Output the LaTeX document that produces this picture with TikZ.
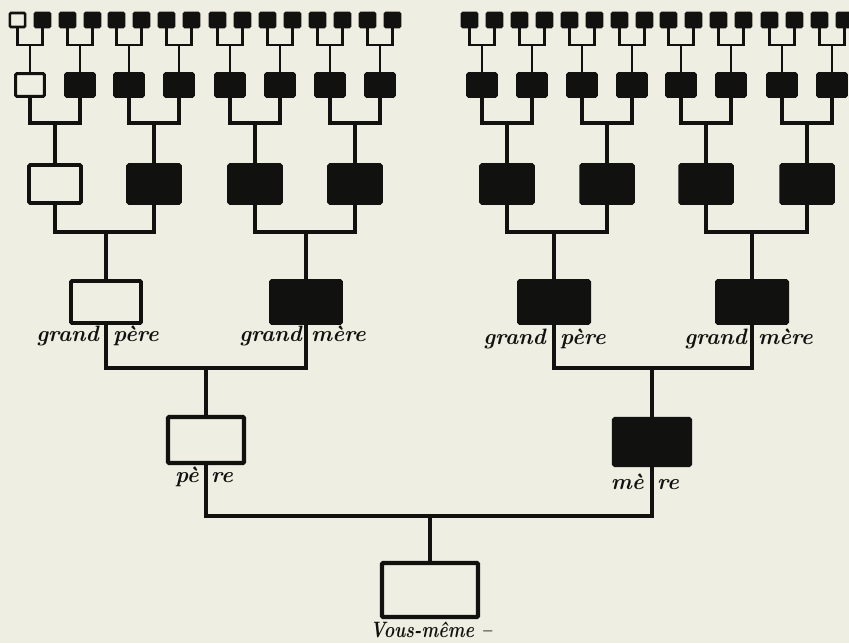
\documentclass[tikz,border=0pt]{standalone}
\usepackage{tikz}
\usetikzlibrary{calc}

\definecolor{paper}{RGB}{238,239,226}
\definecolor{ink}{RGB}{17,17,15}

\tikzset{
    box/.style={draw=ink, inner sep=0pt, outer sep=0pt, rounded corners=1pt},
    whitebox/.style={box, fill=paper},
    blackbox/.style={box, fill=ink},
    gen0/.style={minimum width=2.88cm, minimum height=1.62cm, line width=3.6pt},
    gen1/.style={minimum width=2.28cm, minimum height=1.38cm, line width=3.6pt},
    gen2/.style={minimum width=2.10cm, minimum height=1.26cm, line width=3.4pt},
    gen3/.style={minimum width=1.56cm, minimum height=1.14cm, line width=3pt},
    gen4/.style={minimum width=0.86cm, minimum height=0.68cm, line width=2.6pt},
    gen5/.style={minimum width=0.46cm, minimum height=0.42cm, line width=2.2pt},
    lnk/.style={draw=ink, line join=miter},
    lbl/.style={inner sep=0pt, text=ink, font=\fontsize{19}{22}\selectfont\bfseries\itshape}
}

\begin{document}
\begin{tikzpicture}[x=0.03cm, y=-0.03cm]
    \fill[paper] (0,0) rectangle (849,643);
    \useasboundingbox (0,0) rectangle (849,643);

    % vous-meme
    \node[whitebox, gen0] (moi) at (430,590) {};
    \node[lbl, anchor=base, xscale=0.8] (moi-t) at (431,637) {Vous-même --};

    % parents
    \node[whitebox, gen1] (pere) at (206,440) {};
    \node[blackbox, gen1] (mere) at (652,442) {};
    \coordinate (j0) at (430,516);
    \draw[lnk, line width=3.6pt] (pere.south) |- (j0) -| (mere.south) (j0) -- (moi.north);
    \node[lbl, anchor=base east] (pere-a) at (199,482) {pè};
    \node[lbl, anchor=base west] (pere-b) at (211,482) {re};
    \node[lbl, anchor=base east] (mere-a) at (644,489) {mè};
    \node[lbl, anchor=base west] (mere-b) at (657,489) {re};

    % grands-parents
    \node[whitebox, gen2] (gpp) at (106,302) {};
    \node[blackbox, gen2] (gmp) at (306,302) {};
    \node[blackbox, gen2] (gpm) at (554,302) {};
    \node[blackbox, gen2] (gmm) at (752,302) {};
    \coordinate (j1p) at (206,368);
    \coordinate (j1m) at (652,368);
    \draw[lnk, line width=3.4pt] (gpp.south) |- (j1p) -| (gmp.south) (j1p) -- (pere.north);
    \draw[lnk, line width=3.4pt] (gpm.south) |- (j1m) -| (gmm.south) (j1m) -- (mere.north);
    \node[lbl, anchor=base east] (gpp-a) at (99,341) {grand};
    \node[lbl, anchor=base west] (gpp-b) at (113,341) {père};
    \node[lbl, anchor=base east] (gmp-a) at (302,341) {grand};
    \node[lbl, anchor=base west] (gmp-b) at (311,341) {mère};
    \node[lbl, anchor=base east] (gpm-a) at (546,344) {grand};
    \node[lbl, anchor=base west] (gpm-b) at (560,344) {père};
    \node[lbl, anchor=base east] (gmm-a) at (747,344) {grand};
    \node[lbl, anchor=base west] (gmm-b) at (758,344) {mère};

    % deux rangs du haut
    \foreach \n/\x/\s in {b1/30/whitebox, b2/80/blackbox, b3/129/blackbox, b4/179/blackbox,
        b5/230/blackbox, b6/280/blackbox, b7/330/blackbox, b8/380/blackbox,
        b9/482/blackbox, b10/532/blackbox, b11/582/blackbox, b12/632/blackbox,
        b13/681/blackbox, b14/731/blackbox, b15/782/blackbox, b16/832/blackbox} {
        \node[\s, gen4] (\n) at (\x,85) {};
        \node[\s, gen5] (\n-l) at (\x-12.5,20) {};
        \node[blackbox, gen5] (\n-r) at (\x+12.5,20) {};
        \coordinate (\n-j) at (\x,45);
        \draw[lnk, line width=2pt] (\n-l.south) |- (\n-j) -| (\n-r.south) (\n-j) -- (\n.north);
    }

    % arriere-grands-parents
    \foreach \n/\x/\s/\p/\q in {a1/55/whitebox/b1/b2, a2/154/blackbox/b3/b4,
        a3/255/blackbox/b5/b6, a4/355/blackbox/b7/b8, a5/507/blackbox/b9/b10,
        a6/607/blackbox/b11/b12, a7/706/blackbox/b13/b14, a8/807/blackbox/b15/b16} {
        \node[\s, gen3] (\n) at (\x,184) {};
        \coordinate (\n-j) at (\x,123);
        \draw[lnk, line width=2.6pt] (\p.south) |- (\n-j) -| (\q.south) (\n-j) -- (\n.north);
    }

    \coordinate (j2a) at (106,232);
    \coordinate (j2b) at (306,232);
    \coordinate (j2c) at (554,232);
    \coordinate (j2d) at (752,232);
    \draw[lnk, line width=3pt] (a1.south) |- (j2a) -| (a2.south) (j2a) -- (gpp.north);
    \draw[lnk, line width=3pt] (a3.south) |- (j2b) -| (a4.south) (j2b) -- (gmp.north);
    \draw[lnk, line width=3pt] (a5.south) |- (j2c) -| (a6.south) (j2c) -- (gpm.north);
    \draw[lnk, line width=3pt] (a7.south) |- (j2d) -| (a8.south) (j2d) -- (gmm.north);
\end{tikzpicture}
\end{document}
